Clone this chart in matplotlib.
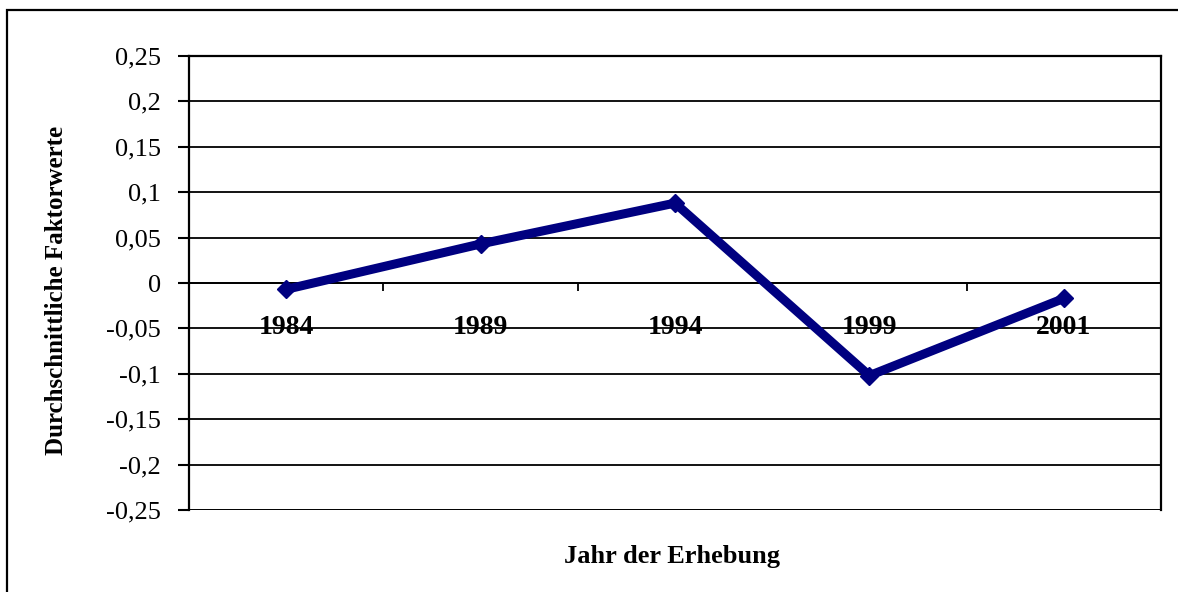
import matplotlib
matplotlib.use("Agg")
from matplotlib import pyplot as plt
from matplotlib.patches import Rectangle

years = ["1984", "1989", "1994", "1999", "2001"]
values = [-0.007, 0.043, 0.088, -0.102, -0.017]
yticks = [-0.25, -0.2, -0.15, -0.1, -0.05, 0, 0.05, 0.1, 0.15, 0.2, 0.25]
ytick_labels = ["-0,25", "-0,2", "-0,15", "-0,1", "-0,05", "0",
                "0,05", "0,1", "0,15", "0,2", "0,25"]

plt.rcParams["font.family"] = ["Liberation Serif", "DejaVu Serif"]

fig = plt.figure(figsize=(11.78, 5.92), dpi=100)
# outer chart frame (Excel style)
fig.patches.append(Rectangle((7 / 1178, -0.1), 1.2, 1.1 - 10 / 592,
                             transform=fig.transFigure, fill=False,
                             edgecolor="black", linewidth=1.6))

ax = fig.add_axes([189 / 1178, 1 - 510 / 592, (1161 - 189) / 1178, (510 - 56) / 592])

x = list(range(len(years)))
ax.plot(x, values, color="#000080", linewidth=6.5, marker="D", markersize=9,
        solid_joinstyle="miter", zorder=5)

ax.set_xlim(-0.5, len(years) - 0.5)
ax.set_ylim(-0.25, 0.25)

ax.set_yticks(yticks)
ax.set_yticklabels(ytick_labels, fontsize=19)
ax.tick_params(axis="y", direction="out", length=8, width=1.5, pad=12)
ax.yaxis.grid(True, color="black", linewidth=1.3)
ax.axhline(-0.25, color="black", linewidth=1.8)

# category axis crosses at zero
ax.spines["bottom"].set_position(("data", 0))
ax.spines["bottom"].set_linewidth(1.3)
for s in ["left", "right", "top"]:
    ax.spines[s].set_linewidth(1.6)
ax.set_xticks([i + 0.5 for i in x[:-1]])
ax.set_xticklabels([])
ax.tick_params(axis="x", which="major", direction="out", length=6, width=1.3)
ax.set_xticks(x, minor=True)
ax.set_xticklabels(years, minor=True, fontsize=20, fontweight="bold")
ax.tick_params(axis="x", which="minor", length=0, pad=23)

fig.text(57 / 1178, 1 - 290 / 592, "Durchschnittliche Faktorwerte", fontsize=18,
         fontweight="bold", rotation=90, ha="center", va="center")
fig.text(672 / 1178, 1 - 557 / 592, "Jahr der Erhebung", fontsize=19,
         fontweight="bold", ha="center", va="center")

fig.savefig("out.png", dpi=100)
